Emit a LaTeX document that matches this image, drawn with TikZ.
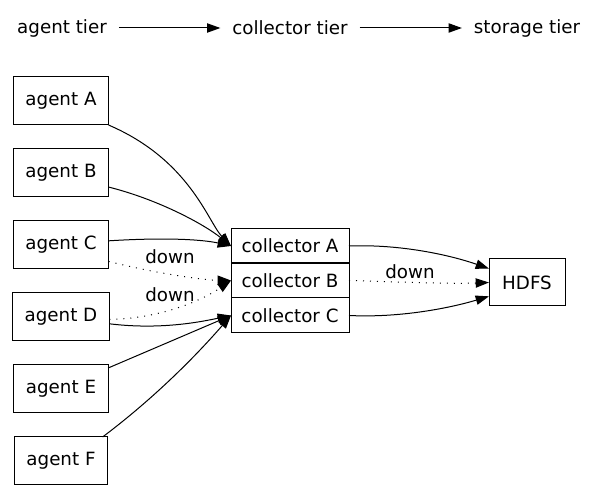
\documentclass[tikz,border=0pt]{standalone}
\usepackage{fontspec}
\setmainfont{DejaVu Sans}
\usetikzlibrary{arrows.meta}

\begin{document}
\begin{tikzpicture}[x=0.75pt, y=-0.75pt, line width=0.75pt,
    font=\fontsize{13.7}{16}\selectfont,
    tierlabel/.style={inner xsep=9pt, inner ysep=0pt, outer sep=0pt},
    agentbox/.style={draw, rectangle, inner xsep=9pt, inner ysep=0pt, minimum height=36pt, outer sep=0pt},
    collbox/.style={draw, rectangle, minimum width=88.5pt, minimum height=26.25pt, inner sep=0pt, outer sep=0pt},
    flow/.style={-{Triangle[length=10pt, width=7pt]}},
    failed/.style={flow, dash pattern=on 0.75pt off 4.5pt},
    downlabel/.style={inner sep=1pt}
]

    % Frame
    \useasboundingbox (0,0) rectangle (597,491);

    % Tiers
    \node[tierlabel] (agentTier) at (62,28) {agent tier};
    \node[tierlabel] (collectorTier) at (290,28) {collector tier};
    \node[tierlabel] (storageTier) at (527,28) {storage tier};
    \draw[flow] (agentTier) -- (collectorTier);
    \draw[flow] (collectorTier) -- (storageTier);

    % Agents
    \foreach \n/\y in {A/101, B/172.5, C/245, D/317, E/389, F/461} {
        \node[agentbox] (agent\n) at (61,\y) {agent \n};
    }

    % Collectors and storage
    \node[collbox] (collA) at (290,246) {collector A};
    \node[collbox] (collB) at (290,280.5) {collector B};
    \node[collbox] (collC) at (290,315.5) {collector C};
    \node[agentbox, minimum width=57pt, minimum height=35.25pt] (hdfs) at (527,282.5) {HDFS};

    % Agents to collectors
    \draw[flow] (agentA.south east) .. controls (190,160) and (208,222) .. (collA.west);
    \draw[flow] (agentB.-17) .. controls (160,200) and (205,225) .. (collA.west);
    \draw[flow] (agentC.5) .. controls (170,237) and (205,240) .. (collA.west);
    \draw[failed] (agentC.-19) .. controls (150,272) and (200,280) .. (collB.west);
    \draw[failed] (agentD.-3) .. controls (170,318) and (210,295) .. (collB.west);
    \draw[flow] (agentD.-8) .. controls (160,330) and (200,322) .. (collC.west);
    \draw[flow] (agentE.24) -- (collC.west);
    \draw[flow] (agentF.30) .. controls (165,390) and (208,342) .. (collC.west);

    % Collectors to storage
    \draw[flow] (collA.east) .. controls (400,244) and (450,255) .. (hdfs.160);
    \draw[failed] (collB.east) .. controls (400,282) and (450,284) .. (hdfs.180);
    \draw[flow] (collC.east) .. controls (400,318) and (450,308) .. (hdfs.200);

    % Labels
    \node[downlabel] (downC) at (170,257) {down};
    \node[downlabel] (downD) at (170,295) {down};
    \node[downlabel] (downB) at (410,272) {down};

\end{tikzpicture}
\end{document}
